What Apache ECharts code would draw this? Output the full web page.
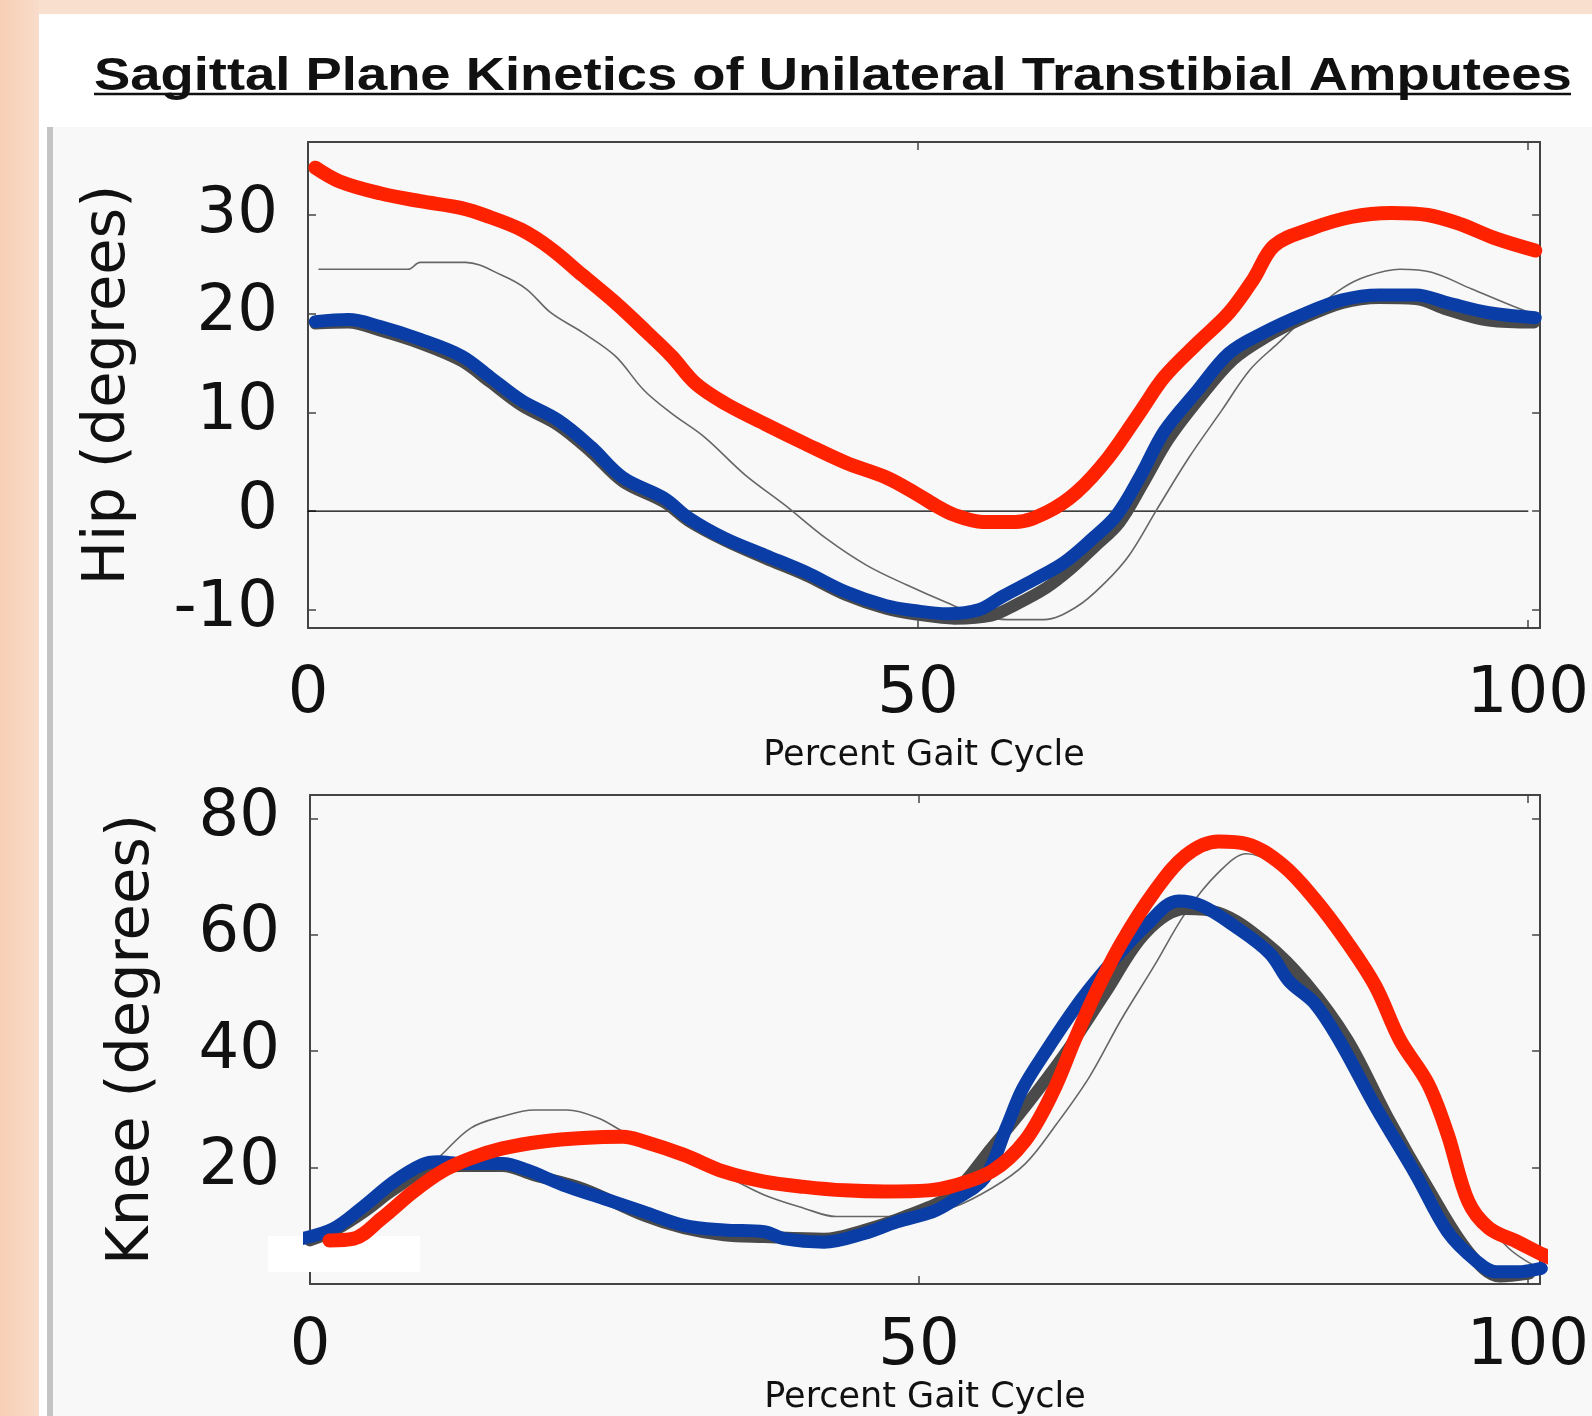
<!DOCTYPE html>
<html>
<head>
<meta charset="utf-8">
<title>Sagittal Plane Kinetics of Unilateral Transtibial Amputees</title>
<script src="https://cdn.jsdelivr.net/npm/echarts@6/dist/echarts.min.js"></script>
<style>
  html, body { margin: 0; padding: 0; background: #fff; }
  #chart { width: 1592px; height: 1416px; }
</style>
</head>
<body>
<div id="chart"></div>
<script>
// percent gait cycle ticks and angle ticks
var xTicks = [0, 50, 100];
var hipTicks = [-10, 0, 10, 20, 30];
var kneeTicks = [20, 40, 60, 80];

// hip angle, [percent gait cycle, degrees]
var hipRed = [[0.6,34.8],[2.6,33.4],[5.9,32.2],[9.2,31.4],[12.6,30.7],[14.9,29.8],[17.5,28.5],[19.9,26.6],
  [22.5,23.9],[25.2,21.1],[27.8,18.1],[29.8,15.7],[31.8,12.9],[34.2,10.9],[37.5,8.8],[40.8,6.8],[44.1,4.9],
  [47.4,3.4],[49.8,1.8],[51.4,0.6],[53.0,-0.4],[55.3,-1.1],[58.0,-1.1],[60.6,-0.1],[63.0,1.9],[65.6,5.4],
  [68.3,10.2],[70.2,13.6],[72.9,17.0],[75.5,20.1],[77.5,23.5],[79.2,26.9],[82.2,28.6],[85.5,29.8],[88.8,30.2],
  [91.8,30.0],[94.4,29.1],[97.4,27.6],[100.6,26.4]];
var hipBlue = [[0.6,19.2],[3.3,19.4],[5.9,18.7],[9.2,17.4],[12.6,15.7],[14.9,13.6],[17.5,11.2],[20.5,9.2],
  [23.2,6.5],[25.8,3.4],[29.2,1.3],[31.2,-0.7],[34.2,-2.8],[37.5,-4.5],[40.8,-6.2],[44.1,-8.2],[47.4,-9.6],
  [49.8,-10.1],[52.4,-10.4],[55.0,-10.0],[57.0,-8.6],[59.6,-6.9],[62.0,-5.2],[64.3,-2.8],[66.3,-0.4],
  [68.3,3.7],[70.2,8.1],[72.9,12.2],[75.5,16.0],[78.2,18.0],[81.5,19.9],[84.8,21.4],[87.8,21.9],[90.8,21.9],
  [93.4,21.1],[96.8,20.1],[100.6,19.6]];
var hipDark = [[0.6,19.0],[3.3,19.1],[5.9,18.3],[9.2,17.0],[12.6,15.2],[14.9,13.1],[17.5,10.7],[20.5,8.7],
  [23.2,6.0],[25.8,3.0],[29.2,0.9],[31.2,-1.0],[34.2,-3.0],[37.5,-4.8],[40.8,-6.5],[44.1,-8.5],[47.4,-9.9],
  [50.0,-10.5],[53.0,-10.9],[56.0,-10.6],[58.0,-9.5],[60.5,-7.8],[62.5,-5.9],[64.5,-3.6],[66.5,-1.2],
  [68.5,2.9],[70.5,7.2],[73.0,11.3],[75.8,15.3],[78.5,17.6],[81.5,19.5],[84.8,21.1],[87.8,21.6],[90.8,21.5],
  [93.4,20.4],[96.8,19.3],[100.5,19.1]];
var hipNormal = [[0.9,24.5],[8.2,24.5],[9.2,25.2],[12.9,25.2],[15.9,23.9],[17.9,22.5],[19.9,20.1],[22.5,18.1],
  [25.2,15.7],[27.5,12.3],[29.8,9.9],[32.5,7.5],[35.8,3.7],[39.1,0.6],[42.5,-2.8],[45.8,-5.5],[49.1,-7.5],
  [52.4,-9.3],[54.7,-10.4],[57.3,-11.0],[60.3,-11.0],[63.0,-9.7],[65.3,-7.3],[67.3,-4.5],[69.6,0.2],
  [72.2,5.4],[74.9,10.2],[77.2,14.3],[79.5,17.0],[82.2,20.1],[84.8,22.6],[86.8,23.8],[89.5,24.5],[92.1,24.2],
  [95.4,22.5],[98.7,20.8],[100.6,19.9]];
var hipZero = [[0, 0], [100, 0]];

// knee angle, [percent gait cycle, degrees]
var kneeRed = [[1.6,7.5],[3.6,7.8],[5.9,11.3],[8.5,15.9],[10.8,19.3],[13.2,21.6],[15.8,23.3],[19.1,24.5],
  [22.4,25.1],[25.7,25.3],[27.4,24.5],[30.7,22.2],[34.0,19.3],[37.3,17.6],[40.6,16.7],[43.9,16.1],[47.2,15.9],
  [50.8,16.1],[52.7,16.8],[56.0,19.4],[58.7,24.6],[61.0,33.0],[62.8,42.0],[64.5,50.0],[66.6,58.5],[69.3,67.3],
  [71.9,73.6],[74.6,76.0],[76.9,75.6],[79.9,71.9],[82.5,66.1],[85.2,58.6],[87.5,51.1],[89.5,41.9],[91.8,34.4],
  [93.4,25.8],[95.1,14.2],[96.8,9.6],[99.1,7.3],[101.3,5.0],[103.5,3.2]];
var kneeBlue = [[-0.7,7.8],[1.9,9.5],[4.2,13.0],[6.9,17.6],[9.2,20.5],[10.5,21.0],[12.5,20.7],[15.8,20.7],
  [17.8,19.6],[20.8,17.0],[24.1,14.7],[27.4,12.4],[30.7,10.1],[34.0,9.3],[37.3,9.0],[38.9,7.8],[42.2,7.2],
  [45.5,8.7],[48.2,10.7],[51.1,12.4],[52.7,14.2],[55.4,18.3],[57.2,27.0],[58.5,33.5],[60.3,39.6],[63.3,48.8],
  [66.0,55.7],[68.6,61.5],[71.3,65.8],[73.2,65.0],[75.9,61.5],[78.8,56.8],[80.4,52.0],[82.5,48.2],[84.5,41.9],
  [87.5,30.4],[90.8,18.8],[93.4,9.0],[95.8,3.9],[97.4,2.1],[99.1,2.1],[101.1,2.7]];
var kneeDark = [[0,7.5],[2,9.2],[4.5,12.5],[7.2,16.8],[9.5,19.5],[12.5,20.3],[15.8,20.3],[18.4,18.7],
  [22.4,16.4],[27.4,11.8],[30.7,9.6],[34.0,8.4],[37.3,8.1],[42.2,7.8],[45.5,9.3],[48.8,11.6],[52.7,15.4],
  [56.0,23.5],[58.7,30.4],[62.0,39.6],[65.3,50.0],[68.6,60.3],[71.9,64.4],[74.6,63.8],[78.5,58.6],[81.8,51.7],
  [85.2,41.9],[88.5,28.6],[91.8,16.5],[95.1,5.6],[97.7,1.3],[100.1,1.8]];
var kneeNormal = [[0,7.3],[3,10.0],[6,14.0],[8.5,17.5],[10.8,22.2],[13.2,26.8],[15.8,28.8],[18.4,29.9],
  [21.1,29.9],[23.7,28.5],[25.7,26.2],[28.0,23.9],[30.7,21.6],[34.0,18.7],[37.3,15.3],[40.6,13.0],[43.2,11.6],
  [47.2,11.6],[49.5,12.0],[52.7,13.1],[56.0,16.5],[58.7,20.6],[61.3,27.5],[64.0,35.6],[66.6,45.4],[69.3,54.6],
  [71.9,63.8],[74.6,70.7],[76.9,73.9],[79.2,72.2],[81.8,67.8],[84.5,61.5],[86.5,55.7],[89.1,45.4],[92.1,32.7],
  [94.4,19.4],[96.4,11.4],[98.4,6.2],[100.4,3.3]];

var tickFont = { fontFamily: 'DejaVu Sans', fontSize: 64, color: '#111' };
var nameFont = { fontFamily: 'DejaVu Sans', fontSize: 35, color: '#111' };
var boxLine = { show: true, onZero: false, lineStyle: { color: '#444', width: 2 } };

function xAxis(grid, pos, labels, margin, gap) {
  return {
    type: 'value', gridIndex: grid, position: pos, min: 0, max: 101,
    axisLine: boxLine, splitLine: { show: false },
    axisTick: { inside: true, length: 8, customValues: xTicks, lineStyle: { color: '#444', width: 1.5 } },
    axisLabel: labels ? Object.assign({ margin: margin, customValues: xTicks }, tickFont) : { show: false },
    name: labels ? 'Percent Gait Cycle' : '', nameLocation: 'middle', nameGap: gap,
    nameTextStyle: nameFont
  };
}
function yAxis(grid, pos, min, max, ticks, name, gap) {
  return {
    type: 'value', gridIndex: grid, position: pos, min: min, max: max,
    axisLine: boxLine, splitLine: { show: false },
    axisTick: { inside: true, length: 8, customValues: ticks, lineStyle: { color: '#444', width: 1.5 } },
    axisLabel: name ? Object.assign({ margin: 30, customValues: ticks }, tickFont) : { show: false },
    name: name || '', nameLocation: 'middle', nameGap: gap,
    nameTextStyle: { fontFamily: 'DejaVu Sans', fontSize: 59, color: '#111' }
  };
}
function line(data, x, y, color, width, z) {
  return {
    type: 'line', data: data, xAxisIndex: x, yAxisIndex: y, showSymbol: false, symbol: 'none',
    smooth: 0.35, clip: false, z: z, silent: true,
    lineStyle: { color: color, width: width, cap: 'round', join: 'round' }
  };
}

var chart = echarts.init(document.getElementById('chart'));
chart.setOption({
  backgroundColor: '#ffffff',
  animation: false,
  graphic: [
    { type: 'rect', z: -10, shape: { x: 0, y: 0, width: 1592, height: 14 }, style: { fill: '#f9dfcd' } },
    { type: 'rect', z: -10, shape: { x: 0, y: 0, width: 39, height: 1416 },
      style: { fill: new echarts.graphic.LinearGradient(0, 0, 1, 0, [
        { offset: 0, color: '#f7cfb4' }, { offset: 1, color: '#f9dccb' }]) } },
    { type: 'rect', z: -10, shape: { x: 53, y: 127, width: 1539, height: 1289 }, style: { fill: '#f8f8f8' } },
    { type: 'rect', z: -10, shape: { x: 47, y: 127, width: 6, height: 1289 }, style: { fill: '#c4c4c4' } },
    // title, the source picture is stretched sideways
    { type: 'text', z: 5, x: 94, y: 54, scaleX: 1.157,
      style: { text: 'Sagittal Plane Kinetics of Unilateral Transtibial Amputees', fill: '#111',
        font: 'bold 47px "Liberation Sans", Arial, sans-serif', align: 'left', verticalAlign: 'top' } },
    { type: 'line', z: 5, shape: { x1: 94, y1: 94, x2: 1571, y2: 94 }, style: { stroke: '#111', lineWidth: 2.5 } },
    { type: 'rect', z: 1, shape: { x: 268, y: 1236, width: 152, height: 36 }, style: { fill: '#ffffff' } }
  ],
  grid: [
    { left: 308, top: 142, width: 1244, height: 486 },
    { left: 310, top: 795, width: 1246, height: 492 }
  ],
  xAxis: [
    xAxis(0, 'bottom', true, 35, 110),
    xAxis(0, 'top', false, 0, 0),
    xAxis(1, 'bottom', true, 31, 90),
    xAxis(1, 'top', false, 0, 0)
  ],
  yAxis: [
    yAxis(0, 'left', -11.85, 37.4, hipTicks, 'Hip (degrees)', 170),
    yAxis(0, 'right', -11.85, 37.4, hipTicks, null, 0),
    yAxis(1, 'left', 0, 84, kneeTicks, 'Knee (degrees)', 148),
    yAxis(1, 'right', 0, 84, kneeTicks, null, 0)
  ],
  series: [
    line(hipZero, 0, 0, '#000', 1.2, 2),
    line(hipNormal, 0, 0, '#666', 1.6, 3),
    line(hipDark, 0, 0, '#4a4a4a', 12, 4),
    line(hipBlue, 0, 0, '#0a3ea6', 13, 5),
    line(hipRed, 0, 0, '#ff2200', 14, 6),
    line(kneeNormal, 2, 2, '#666', 1.6, 3),
    line(kneeDark, 2, 2, '#4a4a4a', 12, 4),
    line(kneeBlue, 2, 2, '#0a3ea6', 13, 5),
    line(kneeRed, 2, 2, '#ff2200', 14, 6)
  ]
});
</script>
</body>
</html>
